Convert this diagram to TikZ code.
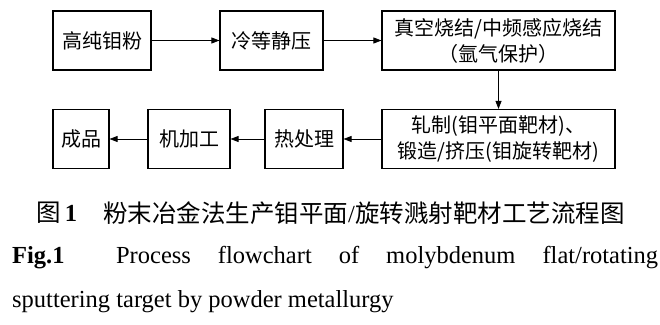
\documentclass[tikz,border=0pt]{standalone}
\usepackage{fontspec}
\setmainfont{Liberation Serif}
\newfontfamily\cjk{Noto Sans CJK SC}
\usetikzlibrary{arrows.meta, positioning}

\begin{document}
\begin{tikzpicture}[x=1pt, y=-1pt, >={Triangle[length=8pt, width=6pt]},
    proc/.style={rectangle, draw, line width=1.1pt, minimum height=59pt,
      inner sep=2pt, align=center, font=\cjk\fontsize{20}{26}\selectfont},
    myarr/.style={->, line width=0.8pt},
    capcn/.style={anchor=west, inner sep=0pt, font=\cjk\fontsize{24.5}{28}\selectfont},
    capen/.style={anchor=base west, inner sep=0pt, font=\fontsize{24.5}{28}\selectfont},
  ]
    \useasboundingbox (0,0) rectangle (660,324);

    % Row 1: powder to sintering
    \node[proc, minimum width=98pt]  (powder) at (102,40.5)   {高纯钼粉};
    \node[proc, minimum width=103pt] (cip)    at (271.5,40.5) {冷等静压};
    \node[proc, minimum width=233pt] (sinter) at (498.5,40.5) {真空烧结/中频感应烧结\\（氩气保护）};

    \draw[myarr] (powder) -- (cip);
    \draw[myarr] (cip)    -- (sinter);

    % Row 2: forming to product
    \node[proc, minimum width=233pt] (roll)    at (498.5,139) {轧制(钼平面靶材)、\\锻造/挤压(钼旋转靶材)};
    \node[proc, minimum width=78pt]  (heat)    at (304,139)   {热处理};
    \node[proc, minimum width=82pt]  (machine) at (189,139)   {机加工};
    \node[proc, minimum width=56pt]  (product) at (81,139)    {成品};

    \draw[myarr] (sinter)  -- (roll);
    \draw[myarr] (roll)    -- (heat);
    \draw[myarr] (heat)    -- (machine);
    \draw[myarr] (machine) -- (product);

    % Caption
    \node[capcn] (figcn)   at (36,213) {图\,{\rmfamily\bfseries 1}};
    \node[capcn] (titlecn) at (103,213) {粉末冶金法生产钼平面{\rmfamily /}旋转溅射靶材工艺流程图};
    \node[capen, text width=646pt, align=justify] (figen) at (12,263)
      {\textbf{Fig.1}\hspace{1em}\hfill Process\hfill flowchart\hfill of\hfill molybdenum\hfill flat/rotating};
    \node[capen] (titleen) at (12,307) {sputtering target by powder metallurgy};
\end{tikzpicture}
\end{document}
